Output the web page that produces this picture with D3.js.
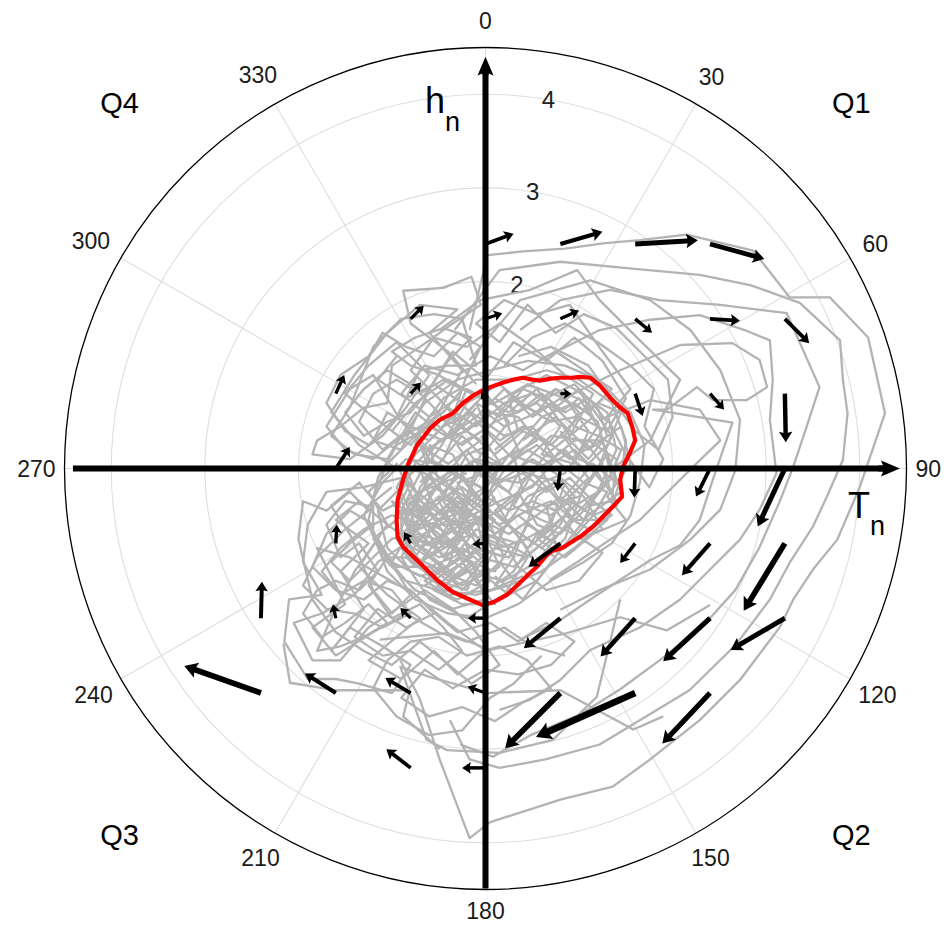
<!DOCTYPE html>
<html><head><meta charset="utf-8">
<script src="https://cdn.jsdelivr.net/npm/d3@7"></script>
<style>body{margin:0;background:#fff}svg{display:block}</style>
</head><body>
<svg id="chart" width="944" height="926"></svg>
<script>
// ---------------- DATA ----------------
const radialTicks = [1, 2, 3, 4];
const radialLabels = [2, 3, 4];
const angleTicks = [0, 30, 60, 90, 120, 150, 180, 210, 240, 270, 300, 330];
const quadrantNames = ["Q1", "Q2", "Q3", "Q4"];
const quadrantAngles = [45, 135, 225, 315];
const axisTitles = ["T", "h"];

// mean-state loop (T_n, h_n)
const meanLoop = [
[-0.06,0.82],[0.05,0.87],[0.19,0.92],[0.30,0.95],[0.40,0.97],[0.50,0.95],[0.58,0.94],[0.70,0.96],[0.80,0.97],[0.92,0.97],[1.01,0.98],[1.12,0.97],
[1.22,0.89],[1.33,0.76],[1.43,0.66],[1.52,0.59],[1.57,0.44],[1.60,0.30],[1.54,0.16],[1.47,0.02],[1.44,-0.12],[1.46,-0.30],
[1.36,-0.41],[1.25,-0.52],[1.15,-0.62],[1.01,-0.73],[0.90,-0.80],[0.82,-0.85],[0.72,-0.88],[0.66,-0.92],[0.55,-1.05],[0.46,-1.13],[0.37,-1.22],
[0.23,-1.35],[0.08,-1.43],[-0.03,-1.46],[-0.17,-1.40],[-0.35,-1.32],[-0.52,-1.19],[-0.70,-1.01],[-0.88,-0.84],[-0.94,-0.73],
[-0.95,-0.55],[-0.94,-0.34],[-0.89,-0.15],[-0.83,0.04],[-0.73,0.25],[-0.59,0.43],[-0.49,0.52],[-0.35,0.59],[-0.24,0.70],[-0.13,0.78]
];

// quiver field: [T, h, dT, dh]
const arrows = [
[0,2.4,0.30,0.11],[0.8,2.4,0.45,0.13],[1.6,2.4,0.67,0.04],[2.4,2.4,0.58,-0.16],
[-0.8,1.6,0.14,0.14],[0,1.6,0.18,0.06],[0.8,1.6,0.20,0.09],[1.6,1.6,0.18,-0.15],[2.4,1.6,0.32,-0.02],[3.2,1.6,0.26,-0.26],
[-1.6,0.8,0.09,0.20],[-0.8,0.8,0.11,0.12],[0,0.8,-0.05,-0.06],[0.8,0.8,0.12,0.0],[1.6,0.8,0.08,-0.24],[2.4,0.8,0.15,-0.17],[3.2,0.8,0.01,-0.52],
[-1.6,0,0.15,0.23],[0.8,0,-0.03,-0.24],[1.6,0,-0.01,-0.31],[2.4,0,-0.15,-0.30],[3.2,0,-0.29,-0.62],
[-1.6,-0.8,0.01,0.20],[-0.8,-0.8,-0.07,0.12],[0,-0.8,-0.14,-0.01],[0.8,-0.8,-0.34,-0.25],[1.6,-0.8,-0.16,-0.21],[2.4,-0.8,-0.30,-0.34],[3.2,-0.8,-0.44,-0.72],
[-2.4,-1.6,0.01,0.39],[-1.6,-1.6,-0.03,0.15],[-0.8,-1.6,-0.11,0.11],[0,-1.6,-0.19,0],[0.8,-1.6,-0.39,-0.32],[1.6,-1.6,-0.37,-0.41],[2.4,-1.6,-0.50,-0.46],[3.2,-1.6,-0.58,-0.34],
[-2.4,-2.4,-0.82,0.29],[-1.6,-2.4,-0.33,0.21],[-0.8,-2.4,-0.27,0.16],[0,-2.4,-0.19,0.07],[0.8,-2.4,-0.59,-0.59],[1.6,-2.4,-1.06,-0.47],[2.4,-2.4,-0.51,-0.54],
[-0.8,-3.2,-0.26,0.20],[0,-3.2,-0.25,0]
];

// grey trajectories (T_n, h_n)
const coreA = [
[0.00,0.00],[0.35,0.20],[0.20,0.55],[0.55,0.70],[0.80,0.45],[0.60,0.15],[0.95,0.05],[1.10,0.40],[0.85,0.75],[0.45,0.90],
[0.10,0.70],[-0.20,0.85],[-0.35,0.50],[-0.05,0.30],[-0.40,0.05],[-0.70,0.25],[-0.55,-0.15],[-0.85,-0.35],[-0.50,-0.55],[-0.20,-0.30],
[0.10,-0.55],[-0.15,-0.85],[0.25,-0.95],[0.45,-0.60],[0.75,-0.80],[0.65,-0.40],[1.00,-0.30],[1.25,0.05],[1.05,0.30],[0.70,0.35],
[0.40,0.05],[0.25,-0.25],[-0.10,-0.05],[-0.30,0.25],[0.05,0.45],[0.30,0.80],[0.65,1.00],[0.95,0.85],[1.30,0.60],[1.40,0.20],
[1.20,-0.25],[0.90,-0.55],[0.55,-1.00],[0.20,-1.20],[-0.20,-1.10],[-0.55,-0.85],[-0.80,-0.60],[-0.95,-0.20],[-0.75,0.15],[-0.45,0.45],
[-0.15,0.60],[0.20,0.35],[0.50,0.45],[0.75,0.10],[0.50,-0.20],[0.15,-0.35],[-0.25,-0.55],[-0.45,-0.25],[-0.10,0.10],[0.30,0.00],
[0.60,-0.10],[0.85,-0.15],[0.70,-0.60],[0.35,-0.80],[0.00,-0.70],[-0.35,-1.00],[-0.65,-1.20],[-0.40,-1.35],[0.05,-1.30],[0.40,-1.15]
];
const coreB = [
[-0.30,-0.20],[-0.60,-0.45],[-0.90,-0.70],[-0.70,-1.00],[-0.35,-0.80],[-0.10,-1.05],[-0.45,-1.25],[-0.80,-1.10],[-1.05,-0.85],[-1.15,-0.45],
[-0.85,-0.15],[-0.55,-0.40],[-0.25,-0.65],[0.05,-0.45],[-0.20,-0.15],[-0.50,0.05],[-0.85,0.10],[-1.10,-0.15],[-1.30,-0.50],[-1.10,-0.95],
[-0.75,-1.30],[-0.35,-1.50],[0.00,-1.40],[-0.15,-1.00],[-0.50,-0.70],[-0.80,-0.45],[-0.60,-0.10],[-0.30,-0.40],[-0.05,-0.80],[0.25,-0.60],
[0.05,-0.25],[-0.35,-0.05],[-0.65,-0.30],[-0.95,-0.55],[-1.20,-0.75],[-0.95,-1.05],[-0.55,-1.05],[-0.25,-1.25],[0.15,-1.05],[-0.05,-0.60],
[-0.40,-0.55],[-0.75,-0.75],[-1.00,-0.35],[-0.70,-0.55],[-0.45,-0.95],[-0.15,-0.45],[-0.55,-0.20],[-0.90,-0.95],[-0.60,-1.40],[-0.20,-1.60],
[0.20,-1.35],[0.45,-0.95],[0.10,-0.85],[-0.30,-1.15],[-0.70,-0.85],[-1.05,-0.60],[-1.25,-0.25],[-0.95,0.05],[-0.65,-0.60],[-0.35,-0.35]
];
const coreC = [
[0.00,0.40],[-0.30,0.75],[-0.60,0.55],[-0.90,0.80],[-0.65,1.10],[-0.30,1.00],[0.05,1.20],[0.40,1.05],[0.75,1.25],[1.05,1.05],
[1.35,0.85],[1.10,0.60],[0.80,0.75],[0.50,0.55],[0.20,0.85],[-0.10,0.55],[-0.45,0.30],[-0.80,0.45],[-1.05,0.60],[-1.20,0.30],
[-0.90,0.20],[-0.60,0.85],[-0.35,1.25],[0.00,0.95],[0.30,1.35],[0.65,1.15],[0.95,1.40],[1.25,1.15],[1.50,0.75],[1.30,0.40],
[1.00,0.55],[0.70,0.25],[0.40,0.40],[0.10,0.15],[-0.20,0.40],[-0.50,0.75],[-0.80,1.05],[-0.55,1.40],[-0.20,1.30],[0.15,1.55],
[0.50,1.30],[0.85,1.00],[1.15,0.80],[0.90,0.35],[0.55,0.85],[0.25,0.60],[-0.05,0.75],[-0.40,0.95],[-0.75,0.70],[-1.00,0.40]
];
const coreD = [
[0.40,0.30],[0.75,0.55],[1.10,0.20],[1.45,0.45],[1.55,0.05],[1.30,-0.30],[1.50,-0.55],[1.15,-0.70],[0.85,-0.95],[0.55,-0.75],
[0.80,-0.40],[1.10,-0.10],[0.85,0.20],[0.50,-0.05],[0.30,-0.40],[0.60,-0.55],[0.95,-0.70],[1.25,-0.90],[1.00,-1.20],[0.65,-1.30],
[0.35,-1.05],[0.15,-0.70],[0.45,-0.30],[0.75,-0.15],[1.05,-0.45],[1.35,-0.10],[1.20,0.50],[0.95,0.70],[0.60,0.55],[0.30,0.20],
[0.05,-0.10],[0.35,-0.15],[0.65,0.05],[0.95,0.30],[1.25,0.30],[1.45,-0.25],[1.10,-0.50],[0.70,-1.00],[0.40,-1.40],[0.10,-1.15]
];
const coreE = [
[-0.10,0.20],[0.15,0.05],[0.05,-0.25],[-0.25,-0.10],[-0.40,-0.40],[-0.15,-0.60],[0.15,-0.45],[0.40,-0.25],[0.30,0.15],[0.55,0.30],
[0.35,0.55],[0.05,0.60],[-0.20,0.40],[-0.50,0.30],[-0.70,0.00],[-0.60,-0.30],[-0.35,-0.65],[-0.05,-0.95],[0.30,-1.05],[0.55,-0.85],
[0.80,-0.60],[0.95,-0.30],[0.75,-0.05],[0.50,0.10],[0.20,-0.10],[-0.05,-0.40],[-0.30,-0.25],[-0.55,-0.05],[-0.80,0.10],[-0.70,0.40],
[-0.40,0.65],[-0.10,0.45],[0.20,0.70],[0.50,0.80],[0.80,0.60],[1.00,0.75],[1.20,0.45],[1.00,0.15],[1.25,-0.15],[1.05,-0.55],
[0.80,-0.30],[0.55,-0.50],[0.25,-0.70],[-0.05,-0.55],[-0.35,-0.40],[-0.65,-0.70],[-0.85,-0.95],[-0.55,-1.15],[-0.25,-0.95],[0.00,-1.15],
[0.25,-1.35],[0.55,-1.20],[0.75,-0.95],[0.45,-0.75],[0.15,-0.85],[-0.15,-0.70],[-0.45,-0.85],[-0.70,-0.45],[-0.95,-0.45],[-0.80,-0.15]
];
const coreF = [
[-0.90,0.30],[-0.65,0.70],[-0.30,0.95],[0.05,1.05],[0.45,1.15],[0.85,1.10],[1.20,0.95],[1.55,0.60],[1.70,0.25],[1.65,-0.15],
[1.55,-0.50],[1.35,-0.80],[1.05,-1.00],[0.70,-1.20],[0.35,-1.45],[0.00,-1.60],[-0.40,-1.55],[-0.75,-1.40],[-1.05,-1.10],[-1.20,-0.70],
[-1.20,-0.30],[-1.05,0.05],[-0.75,0.35],[-0.45,0.75],[-0.10,0.95],[0.30,0.95],[0.65,1.05],[1.00,0.95],[1.35,0.70],[1.50,0.30],
[1.45,-0.10],[1.30,-0.55],[0.95,-0.85],[0.60,-1.10],[0.25,-1.25],[-0.10,-1.35],[-0.50,-1.30],[-0.85,-1.20],[-1.10,-0.90],[-1.25,-0.55],
[-1.15,-0.10],[-0.95,0.25],[-0.60,0.45],[-0.25,0.25],[0.10,0.50],[0.45,0.65],[0.75,0.85],[1.10,0.70],[1.35,0.35],[1.20,0.00]
];
const coreG = [
[-0.20,-0.05],[-0.45,-0.15],[-0.70,-0.25],[-0.90,-0.50],[-0.75,-0.80],[-0.50,-0.95],[-0.25,-0.85],[-0.05,-1.00],[-0.20,-1.30],[-0.50,-1.20],
[-0.80,-1.00],[-0.95,-0.75],[-0.60,-0.60],[-0.35,-0.50],[-0.10,-0.30],[-0.30,-0.05],[-0.60,0.10],[-0.85,-0.10],[-0.65,-0.40],[-0.40,-0.75],
[-0.15,-1.15],[0.10,-1.45],[-0.25,-1.45],[-0.55,-1.30],[-0.30,-1.05],[-0.05,-0.85],[0.20,-0.95],[0.05,-0.60],[-0.20,-0.45],[-0.50,-0.30],
[-0.80,-0.65],[-1.00,-1.00],[-0.70,-1.15],[-0.40,-1.05],[-0.15,-0.25],[-0.35,0.15],[-0.60,0.25],[-0.45,-0.35],[-0.20,-0.70],[0.10,-0.30]
];
const coreH = [
[-0.15,0.80],[-0.45,0.95],[-0.70,0.80],[-0.95,0.95],[-1.20,0.80],[-1.35,0.50],[-1.10,0.20],[-0.85,0.40],[-0.60,0.30],[-0.35,0.55],
[-0.20,1.00],[-0.05,1.30],[-0.30,1.45],[-0.55,1.20],[-0.85,1.30],[-1.10,1.45],[-1.25,1.20],[-1.55,1.00],[-1.70,0.70],[-1.50,0.40],
[-1.25,0.25],[-0.95,0.55],[-0.70,1.05],[-0.40,1.10],[-0.10,1.10],[-0.25,1.60],[-0.55,1.65],[-0.90,1.60],[-1.20,1.30],[-1.45,0.65],
[-1.65,0.35],[-1.40,0.15],[-1.05,0.10],[-0.75,0.60],[-0.50,0.40],[-0.25,0.70],[-0.55,0.90],[-0.85,0.75],[-1.15,0.95],[-0.95,1.20]
];
const coreI = [
[-0.70,-0.60],[-1.00,-0.50],[-1.30,-0.65],[-1.55,-0.85],[-1.75,-1.10],[-1.55,-1.35],[-1.30,-1.20],[-1.00,-1.30],[-0.80,-1.55],[-1.10,-1.70],
[-1.40,-1.55],[-1.70,-1.50],[-1.95,-1.25],[-1.80,-0.95],[-1.50,-0.65],[-1.25,-0.45],[-1.45,-0.25],[-1.70,-0.45],[-1.95,-0.35],[-2.00,-0.75],
[-1.85,-1.40],[-1.60,-1.75],[-1.30,-1.95],[-1.00,-2.10],[-0.70,-1.85],[-0.45,-2.05],[-0.15,-2.30],[0.15,-2.10],[-0.10,-1.75],[-0.35,-1.50],
[-0.65,-1.30],[-0.95,-1.50],[-1.25,-1.70],[-1.55,-2.05],[-1.85,-2.05],[-2.05,-1.65],[-1.75,-1.55],[-1.40,-1.35],[-1.15,-1.00],[-0.85,-0.80]
];
const coreJ = [
[-0.60,-1.50],[-0.30,-1.75],[0.05,-1.65],[0.35,-1.85],[0.65,-1.65],[0.95,-1.85],[0.70,-2.10],[0.35,-2.20],[0.00,-2.15],[-0.35,-2.35],
[-0.65,-2.15],[-0.90,-2.45],[-0.60,-2.65],[-0.25,-2.55],[0.10,-2.70],[0.40,-2.50],[0.70,-2.35],[0.45,-2.05],[0.15,-1.90],[-0.20,-2.00],
[-0.50,-1.80],[-0.80,-1.85],[-1.05,-2.05],[-1.20,-2.35],[-0.95,-2.65],[-0.60,-2.85],[-0.25,-2.80],[0.05,-2.45],[0.30,-2.30],[0.60,-2.00]
];
const coreK = [
[0.20,1.10],[0.50,1.40],[0.85,1.55],[1.20,1.35],[1.55,1.10],[1.80,0.85],[1.70,0.45],[1.90,0.10],[1.75,-0.20],[1.50,0.15],
[1.30,0.55],[1.55,0.85],[1.25,1.25],[0.90,1.75],[0.55,1.65],[0.20,1.80],[-0.10,1.55],[0.15,1.35],[0.45,1.75],[0.75,1.45],
[1.05,1.65],[1.40,1.50],[1.65,1.25],[1.95,0.95],[2.00,0.55],[1.85,0.20],[1.60,0.40],[1.10,1.10],[0.70,1.30],[0.35,1.20]
];
const coreL = [
[0.10,0.75],[0.35,0.60],[0.60,0.80],[0.85,0.60],[1.10,0.75],[1.30,0.50],[1.15,0.25],[0.90,0.10],[0.65,0.30],[0.40,0.45],
[0.15,0.30],[-0.10,0.50],[-0.35,0.30],[-0.55,0.50],[-0.75,0.35],[-0.60,0.10],[-0.35,-0.05],[-0.10,0.10],[0.15,-0.15],[0.40,-0.05],
[0.65,-0.25],[0.90,-0.10],[1.15,-0.35],[1.35,-0.50],[1.10,-0.65],[0.85,-0.50],[0.60,-0.70],[0.35,-0.50],[0.10,-0.70],[-0.15,-0.50],
[-0.40,-0.70],[-0.65,-0.55],[-0.85,-0.80],[-0.60,-0.95],[-0.35,-1.15],[-0.10,-1.25],[0.15,-1.00],[0.35,-1.25],[0.60,-1.00],[0.85,-0.75],
[1.05,-0.20],[1.30,0.15],[1.40,-0.15],[1.15,0.05],[0.80,-0.35],[0.55,0.05],[0.25,0.15],[0.00,-0.20],[-0.25,-0.35],[-0.50,-0.50]
];
const coreM = [
[-0.70,-0.15],[-0.45,0.10],[-0.25,0.55],[0.00,0.80],[0.25,0.50],[0.05,0.25],[-0.20,0.15],[-0.45,-0.30],[-0.75,-0.45],[-0.55,-0.70],
[-0.30,-0.90],[-0.10,-0.65],[0.20,-0.80],[0.50,-0.95],[0.30,-0.65],[0.05,-0.45],[-0.20,-0.65],[-0.50,-0.85],[-0.75,-1.05],[-0.90,-0.85],
[-0.90,-0.45],[-0.70,-0.05],[-0.50,0.20],[-0.20,0.70],[0.15,0.90],[0.45,0.65],[0.70,0.50],[0.95,0.55],[1.20,0.70],[1.45,0.60],
[1.30,0.25],[1.05,0.00],[0.80,0.20],[0.55,-0.15],[0.30,-0.30],[0.00,-0.05],[-0.30,-0.15],[-0.15,-0.40],[0.15,-0.60],[0.45,-0.45],
[0.70,-0.35],[0.95,-0.55],[1.20,-0.55],[1.40,-0.35],[1.20,-0.05],[0.95,0.20],[0.70,0.05],[0.45,0.20],[0.20,0.00],[-0.05,0.35]
];
const coreN = [
[-0.30,0.35],[-0.55,0.65],[-0.80,0.90],[-1.05,1.05],[-1.30,0.85],[-1.50,0.60],[-1.30,0.35],[-1.05,0.50],[-0.80,0.60],[-0.60,0.85],
[-0.40,1.15],[-0.15,1.40],[-0.45,1.50],[-0.75,1.40],[-1.00,1.25],[-0.80,1.10],[-0.50,1.00],[-0.25,0.85],[-0.45,0.60],[-0.70,0.45],
[-0.95,0.30],[-1.20,0.10],[-1.50,0.20],[-1.70,0.45],[-1.45,0.85],[-1.20,1.00],[-0.90,0.50],[-0.60,0.20],[-0.35,0.40],[-0.10,0.70]
];
const coreO = [
[-0.40,-0.80],[-0.70,-0.70],[-1.00,-0.75],[-1.25,-1.00],[-1.45,-1.20],[-1.65,-1.00],[-1.45,-0.80],[-1.20,-0.60],[-1.45,-0.45],[-1.70,-0.70],
[-1.85,-1.05],[-1.60,-1.30],[-1.30,-1.40],[-1.05,-1.20],[-0.80,-1.30],[-0.55,-1.55],[-0.85,-1.70],[-1.15,-1.50],[-1.40,-1.80],[-1.10,-2.00],
[-0.80,-1.95],[-0.50,-2.15],[-0.25,-1.95],[-0.45,-1.70],[-0.70,-1.45],[-1.00,-1.60],[-1.25,-1.25],[-1.05,-0.95],[-0.75,-0.95],[-0.45,-1.10]
];
const coreP = [
[-0.80,-0.30],[-0.60,-0.50],[-0.80,-0.70],[-0.55,-0.85],[-0.35,-0.60],[-0.50,-0.35],[-0.25,-0.20],[-0.05,-0.35],[-0.25,-0.55],[-0.10,-0.80],
[-0.35,-0.95],[-0.60,-1.05],[-0.40,-1.20],[-0.15,-1.00],[0.10,-1.10],[0.25,-0.85],[0.00,-0.75],[-0.20,-0.95],[-0.45,-0.70],[-0.70,-0.85],
[-0.85,-0.55],[-0.65,-0.20],[-0.40,-0.05],[-0.15,0.05],[0.05,-0.15],[-0.15,-0.40],[-0.40,-0.20],[-0.65,-0.05],[-0.85,0.00],[-0.70,-0.35],
[-0.45,-0.50],[-0.25,-0.75],[-0.50,-1.05],[-0.25,-1.30],[0.00,-1.05],[0.20,-0.65],[0.00,-0.50],[-0.30,-0.60],[-0.55,-0.60],[-0.75,-0.95]
];
const coreQ = [
[0.10,0.20],[0.35,0.40],[0.25,0.75],[0.55,0.60],[0.75,0.85],[1.00,0.60],[0.85,0.35],[1.10,0.10],[1.30,0.35],[1.20,0.65],
[0.95,0.90],[0.65,0.75],[0.40,0.85],[0.15,0.55],[-0.10,0.70],[0.05,0.35],[0.30,0.10],[0.55,0.25],[0.80,0.05],[1.05,-0.15],
[1.30,-0.25],[1.15,-0.50],[0.90,-0.35],[0.70,-0.50],[0.45,-0.40],[0.60,-0.15],[0.85,-0.05],[1.10,0.30],[1.40,0.10],[1.35,-0.35],
[1.10,-0.40],[0.80,-0.70],[0.55,-0.60],[0.35,-0.25],[0.10,-0.45],[0.30,-0.65],[0.60,-0.85],[0.95,-0.55],[0.70,-0.25],[0.45,0.00]
];
const coreR = [
[0.00,0.60],[0.20,0.45],[0.45,0.55],[0.70,0.70],[0.95,0.45],[1.20,0.35],[1.45,0.20],[1.35,-0.05],[1.20,-0.25],[0.95,-0.40],
[0.70,-0.65],[0.45,-0.85],[0.20,-0.55],[0.40,-0.15],[0.65,0.15],[0.90,0.35],[1.15,0.55],[1.00,0.85],[0.75,0.65],[0.50,0.30],
[0.25,0.05],[0.00,-0.30],[0.25,-0.45],[0.50,-0.35],[0.75,-0.45],[1.00,-0.75],[1.25,-0.65],[1.05,-0.30],[0.80,-0.10],[0.55,-0.30],
[0.30,-0.95],[0.10,-1.25],[0.30,-1.10],[0.55,-0.70],[0.85,-0.85],[1.15,-0.50],[1.40,-0.40],[1.25,0.00],[1.00,0.10],[0.80,0.40]
];
const coreS = [
[-0.10,0.65],[-0.30,0.40],[-0.55,0.25],[-0.75,0.05],[-0.90,-0.25],[-0.75,-0.60],[-0.85,-0.90],[-0.65,-1.10],[-0.45,-1.30],[-0.20,-1.20],
[0.00,-0.95],[-0.20,-0.80],[-0.45,-0.60],[-0.65,-0.40],[-0.45,-0.10],[-0.20,0.20],[-0.05,0.00],[-0.25,-0.40],[-0.50,-0.75],[-0.70,-1.00],
[-0.90,-0.65],[-0.80,-0.35],[-0.55,-0.50],[-0.30,-0.30],[-0.10,-0.55],[-0.35,-0.80],[-0.60,-0.80],[-0.85,-0.75],[-0.70,-0.20],[-0.50,0.05],
[-0.25,0.35],[-0.05,0.15],[-0.30,-0.60],[-0.15,-0.95],[-0.40,-1.10],[-0.65,-1.25],[-0.30,-1.40],[0.05,-1.20],[-0.10,-0.50],[-0.40,-0.45]
];
const coreT = [
[-1.00,-0.20],[-1.25,-0.40],[-1.50,-0.35],[-1.70,-0.60],[-1.55,-0.95],[-1.35,-0.80],[-1.15,-1.10],[-1.35,-1.30],[-1.60,-1.20],[-1.80,-1.30],
[-1.95,-1.55],[-1.75,-1.80],[-1.50,-1.65],[-1.25,-1.45],[-1.05,-1.65],[-1.30,-1.80],[-1.55,-1.90],[-1.80,-1.95],[-1.65,-1.60],[-1.40,-1.10],
[-1.15,-0.75],[-0.95,-1.10],[-0.80,-1.35],[-1.00,-1.55],[-1.20,-1.30],[-1.45,-0.70],[-1.65,-0.40],[-1.35,-0.15],[-1.10,-0.45],[-0.90,-0.35]
];
const leftQ4 = [
[-0.10,0.90],[-0.40,1.25],[-0.80,1.55],[-0.88,1.90],[-0.45,1.93],[-0.15,2.05],[-0.05,1.75],[-0.35,1.55],[-0.70,1.30],[-1.00,1.10],
[-1.05,0.70],[-1.30,0.65],[-1.55,0.45],[-1.80,0.30],[-1.85,0.15],[-1.45,0.10],[-1.10,0.35],[-0.85,0.65],[-0.60,1.00],[-0.95,1.35],
[-1.25,1.10],[-1.50,0.80],[-1.20,0.55],[-0.80,0.25],[-0.50,0.60],[-0.25,1.05],[-0.60,1.45],[-0.30,1.70],[-0.70,1.75],[-1.05,1.45],
[-1.40,1.00],[-1.65,0.60],[-1.35,0.25],[-0.95,0.00]
];
const leftQ3 = [
[-0.90,-0.10],[-1.30,-0.20],[-1.70,-0.25],[-1.90,-0.60],[-1.95,-1.00],[-1.75,-1.35],[-2.10,-1.40],[-2.15,-1.85],[-1.90,-2.25],[-1.60,-2.25],
[-1.35,-2.30],[-1.00,-2.40],[-0.80,-2.10],[-1.10,-1.90],[-1.45,-1.70],[-1.65,-1.95],[-1.30,-1.50],[-1.55,-1.10],[-1.25,-0.80],[-1.60,-0.55],
[-1.35,-0.35],[-1.05,-0.60],[-1.35,-1.05],[-1.05,-1.35],[-0.70,-1.60],[-0.95,-1.80],[-1.25,-2.05],[-0.90,-2.25],[-0.55,-1.95],[-0.30,-2.20],
[0.00,-1.95],[-0.40,-1.65],[-0.75,-1.35],[-1.10,-1.15],[-1.45,-0.95],[-1.80,-0.85],[-1.50,-1.45],[-1.85,-1.70],[-1.60,-2.00],[-1.20,-1.75],
[-0.85,-1.55],[-0.50,-1.75],[-0.20,-1.85],[0.20,-1.70],[0.50,-1.90],[0.85,-2.00]
];
const loop1 = [
[-0.17,1.48],[0.02,2.28],[0.40,2.32],[0.85,2.35],[1.28,2.41],[1.65,2.44],[2.15,2.50],[2.86,2.33],[3.25,1.83],[3.68,1.83],
[4.09,1.40],[4.27,0.59],[4.00,-0.20],[3.76,-0.76],[3.50,-1.08],[3.29,-1.40],[3.15,-1.69],[2.72,-2.26],[2.29,-2.69],[1.76,-3.11],
[1.36,-3.40],[0.80,-3.54],[0.05,-3.78],[-0.17,-3.95],[-0.49,-3.11],[-0.70,-2.47],[-0.91,-2.05]
];
const loop2 = [
[-0.33,1.48],[0.15,2.12],[0.80,2.21],[1.54,2.14],[2.29,2.07],[2.83,1.96],[3.36,1.77],[3.79,1.37],[3.82,0.95],[3.87,0.59],
[3.82,0.09],[3.65,-0.30],[3.50,-0.62],[3.25,-1.01],[3.04,-1.40],[2.67,-1.89],[2.18,-2.37],[1.65,-2.69],[1.22,-2.95],[0.64,-3.11],
[0.15,-3.20],[-0.17,-3.11],[-0.38,-2.69]
];
const loop3 = [
[0.37,1.48],[0.80,1.80],[1.33,1.91],[1.86,1.80],[2.51,1.75],[3.22,1.66],[3.57,0.87],[3.43,0.44],[3.29,0.02],[3.15,-0.34],
[2.93,-0.84],[2.67,-1.30],[2.29,-1.72],[1.86,-2.05],[1.44,-2.36],[1.01,-2.63],[0.48,-2.85],[0.08,-3.08],[-0.27,-2.95]
];
const loop4 = [
[0.58,1.16],[1.22,1.48],[1.76,1.59],[2.29,1.64],[2.77,1.48],[3.04,1.37],[3.07,0.95],[3.04,0.52],[3.11,-0.05],[2.93,-0.44],
[2.72,-0.76],[2.40,-1.08],[2.08,-1.40],[1.65,-1.70],[1.12,-1.94],[0.80,-2.26],[0.48,-2.47],[0.15,-2.58]
];
const loop5 = [
[0.80,0.73],[1.44,1.05],[2.08,1.32],[2.64,1.34],[2.93,1.16],[3.01,0.87],[2.79,0.73],[2.43,0.73],[2.26,0.87],[1.94,0.63],
[1.79,0.63],[2.64,0.49],[2.43,-0.12],[2.29,-0.55],[2.08,-0.82],[1.76,-0.98],[1.44,-1.19],[1.12,-1.40],[0.80,-1.62],[0.37,-1.83]
];
const loop6 = [
[1.22,0.52],[1.76,0.73],[2.29,0.63],[2.51,0.30],[2.18,-0.02],[1.86,-0.34],[1.65,-0.55],[1.33,-0.76],[1.01,-0.98],[0.69,-1.19]
];
const loop7 = [
[-0.17,1.16],[0.37,1.80],[1.12,2.01],[1.76,1.80],[2.19,1.48],[2.51,1.05],[2.72,0.52],[2.67,-0.02],[2.51,-0.44],[2.19,-0.76],
[1.76,-1.08],[1.22,-1.30],[0.80,-1.51]
];
const loop8 = [
[-0.49,1.48],[-0.06,1.80],[0.48,1.91],[0.98,2.12],[1.22,1.80],[1.65,1.37],[2.08,0.95],[1.76,0.30],[1.33,-0.02]
];
const bottom1 = [
[-1.13,-1.83],[-0.41,-1.76],[0.05,-1.94],[0.87,-1.76],[1.44,-1.59],[1.94,-1.73],[2.40,-1.46]
];
const bottom2 = [
[1.44,-1.40],[1.19,-2.44],[0.72,-2.90],[0.15,-3.04],[-0.41,-3.01],[-0.63,-2.90],[-0.91,-2.12],[-0.59,-2.23],[0.02,-2.40],[0.80,-2.37],
[1.58,-2.79],[1.90,-2.65]
];
const bottom3 = [
[-2.16,-1.87],[-2.09,-2.29],[-1.61,-2.37],[-1.31,-2.37],[-0.81,-2.37],[-0.88,-2.65],[-0.49,-3.00]
];
const greySeries = [coreA, coreB, coreC, coreD, coreE, coreF, coreG, coreH, coreI, coreJ, coreK, coreL, coreM, coreN, coreO, coreP, coreQ,
  coreR, coreS, coreT, leftQ4, leftQ3, loop1, loop2, loop3, loop4, loop5, loop6, loop7, loop8, bottom1, bottom2, bottom3];

// ---------------- CHART ----------------
const W = 944, H = 926;
const cx = 485.5, cy = 468.5, R = 421, rMax = 4.5;
const x = d3.scaleLinear().domain([-rMax, rMax]).range([cx - R, cx + R]);
const y = d3.scaleLinear().domain([-rMax, rMax]).range([cy + R, cy - R]);
const rScale = d3.scaleLinear().domain([0, rMax]).range([0, R]);
const deg = Math.PI / 180;
const pt = (a, rho) => [x(rho * Math.sin(a * deg)), y(rho * Math.cos(a * deg))];
const FONT = "'Liberation Sans', Arial, Helvetica, sans-serif";

const svg = d3.select("#chart");
svg.append("rect").attr("width", W).attr("height", H).attr("fill", "#fff");

// grid
const grid = svg.append("g");
grid.selectAll("circle").data(radialTicks).join("circle")
  .attr("cx", x(0)).attr("cy", y(0)).attr("r", d => rScale(d))
  .attr("fill", "none").attr("stroke", "#dedede").attr("stroke-width", 1.1);
grid.selectAll("line").data(angleTicks).join("line")
  .attr("x1", x(0)).attr("y1", y(0))
  .attr("x2", d => pt(d, rMax)[0]).attr("y2", d => pt(d, rMax)[1])
  .attr("stroke", "#dedede").attr("stroke-width", 1.1);
svg.append("circle").attr("cx", x(0)).attr("cy", y(0)).attr("r", rScale(rMax))
  .attr("fill", "none").attr("stroke", "#000").attr("stroke-width", 1.3);

// radial labels
svg.append("g").selectAll("text").data(radialLabels).join("text")
  .attr("x", d => pt(9.7, d)[0]).attr("y", d => pt(9.7, d)[1])
  .attr("dy", "0.36em").attr("text-anchor", "middle")
  .attr("font-family", FONT).attr("font-size", 24).attr("fill", "#222")
  .text(d => d);

// grey trajectories
const line = d3.line().x(d => x(d[0])).y(d => y(d[1]));
svg.append("g").selectAll("path").data(greySeries).join("path")
  .attr("d", line).attr("fill", "none").attr("stroke", "#b3b3b3")
  .attr("stroke-width", 2.3).attr("stroke-linejoin", "round");

// red mean loop
svg.append("path").datum(meanLoop).attr("d", d => line(d) + "Z")
  .attr("fill", "none").attr("stroke", "#ff0000").attr("stroke-width", 4.2)
  .attr("stroke-linejoin", "round");

// arrow helper
function drawArrow(sel, x1, y1, x2, y2, w, hl, hw) {
  const dx = x2 - x1, dy = y2 - y1, L = Math.hypot(dx, dy);
  if (L < 0.5) return;
  const ux = dx / L, uy = dy / L, nx = -uy, ny = ux;
  hl = Math.min(hl, L);
  const bx = x2 - ux * hl, by = y2 - uy * hl;
  const notch = 0.18 * hl;
  if (L > hl * 0.6 + 0.5) {
    sel.append("line").attr("x1", x1).attr("y1", y1)
      .attr("x2", x2 - ux * hl * 0.6).attr("y2", y2 - uy * hl * 0.6)
      .attr("stroke", "#000").attr("stroke-width", w);
  }
  sel.append("path")
    .attr("d", `M${x2},${y2}L${bx + nx * hw},${by + ny * hw}L${bx + ux * notch},${by + uy * notch}L${bx - nx * hw},${by - ny * hw}Z`)
    .attr("fill", "#000");
}

// axes
const axG = svg.append("g");
axG.append("line").attr("x1", x(-4.41)).attr("y1", y(0)).attr("x2", x(4.3)).attr("y2", y(0))
  .attr("stroke", "#000").attr("stroke-width", 6);
drawArrow(axG, x(4.2), y(0), x(4.43), y(0), 6, 19, 8);
axG.append("line").attr("x1", x(0)).attr("y1", y(-4.49)).attr("x2", x(0)).attr("y2", y(4.25))
  .attr("stroke", "#000").attr("stroke-width", 6);
drawArrow(axG, x(0), y(4.2), x(0), y(4.40), 6, 19, 8);

// quiver arrows
const qG = svg.append("g");
arrows.forEach(a => {
  const x1 = x(a[0]), y1 = y(a[1]), x2 = x(a[0] + a[2]), y2 = y(a[1] + a[3]);
  const L = Math.hypot(x2 - x1, y2 - y1);
  const w = 2.6 + 0.038 * L;
  drawArrow(qG, x1, y1, x2, y2, w, 7 + 0.075 * L, w + 2.3);
});

// angle labels
const angG = svg.append("g").attr("font-family", FONT).attr("font-size", 23).attr("fill", "#1a1a1a");
angleTicks.forEach(a => {
  const t = angG.append("text").attr("text-anchor", "middle").attr("dy", "0.36em").text(a);
  const w = t.node().getComputedTextLength();
  const s = Math.abs(Math.sin(a * deg)), cs = Math.cos(a * deg);
  const vOff = cs >= 0 ? 18 * cs : 12 * (-cs);
  const rho = rMax + (9 + 0.5 * w * s + vOff) / (R / rMax);
  const p = pt(a, rho);
  t.attr("x", p[0]).attr("y", p[1]);
});

// quadrant labels
svg.append("g").selectAll("text").data(quadrantNames).join("text")
  .attr("x", (d, i) => pt(quadrantAngles[i], 5.53)[0])
  .attr("y", (d, i) => pt(quadrantAngles[i], 5.53)[1])
  .attr("dy", "0.36em").attr("text-anchor", "middle")
  .attr("font-family", FONT).attr("font-size", 29).attr("fill", "#000")
  .text(d => d);

// axis titles with subscript n
const tT = svg.append("text").attr("x", 848).attr("y", 518)
  .attr("font-family", FONT).attr("font-size", 36).attr("fill", "#000");
tT.append("tspan").text(axisTitles[0]);
tT.append("tspan").attr("font-size", 27).attr("dy", 17).text("n");
const tH = svg.append("text").attr("x", 425).attr("y", 113)
  .attr("font-family", FONT).attr("font-size", 36).attr("fill", "#000");
tH.append("tspan").text(axisTitles[1]);
tH.append("tspan").attr("font-size", 27).attr("dy", 18).text("n");
</script>
</body></html>
